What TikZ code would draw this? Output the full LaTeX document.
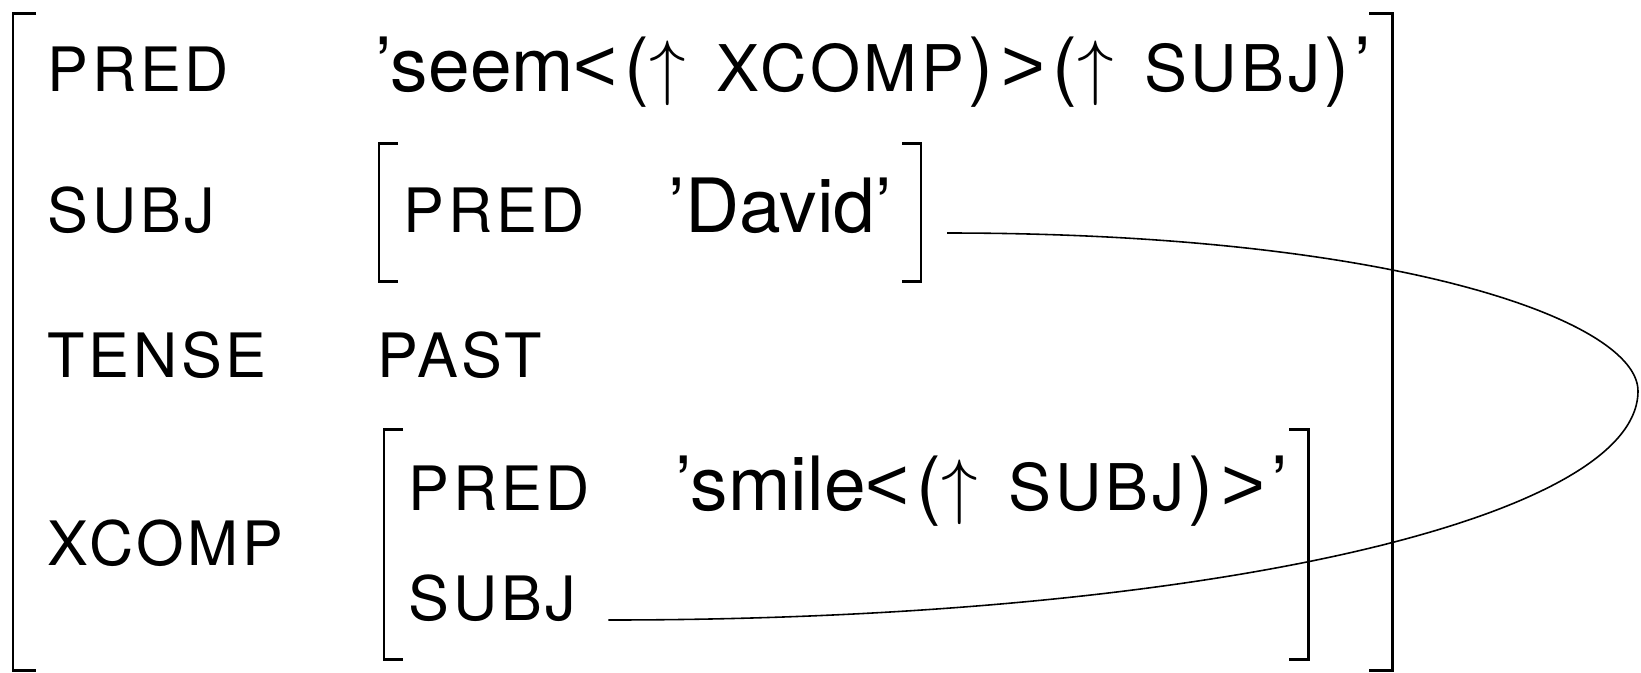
\documentclass[tikz,border=0pt]{standalone}
\usepackage{fontspec}
\setmainfont{TeX Gyre Heros}
\newfontfamily\attrfont[LetterSpace=6]{TeX Gyre Heros}
\newfontfamily\angfont{Liberation Sans}
\usetikzlibrary{calc,positioning}
\newcommand{\fsattr}{\attrfont\fontsize{17.4}{20}\selectfont}
\newcommand{\fsval}{\fontsize{21.3}{25}\selectfont}
% pieces of a PRED value
\newcommand{\at}[1]{{\attrfont\fontsize{18.3}{21}\selectfont #1}}
\newcommand{\up}{\kern2pt($\uparrow$\ \kern2.8pt}
\newcommand{\cl}{\kern1.1pt)}
\newcommand{\lt}{{\angfont<}}
\newcommand{\gt}{\kern2.3pt{\angfont>}}
\newcommand{\qe}{\kern1.7pt’}

\begin{document}
\begin{tikzpicture}[x=0.01cm,y=-0.01cm,
    attr/.style={anchor=base west,inner sep=0pt,font=\fsattr},
    val/.style={anchor=base west,inner sep=0pt,font=\fsval},
    avm/.style={line width=0.85pt},
    link/.style={line width=0.45pt}]
        \useasboundingbox (0,0) rectangle (1641,672);
        % outer f-structure
        \draw[avm] (36,13) -- (13,13) -- (13,670) -- (36,670);
        \draw[avm] (1369,13) -- (1392,13) -- (1392,670) -- (1369,670);
        \node[attr] (pred) at (47,91) {PRED};
        \node[attr] (subj) at (47,232) {SUBJ};
        \node[attr] (tense) at (47,377) {TENSE};
        \node[attr] (xcomp) at (47,565) {XCOMP};
        \node[val] (seem) at (375,91) {’seem\lt\up\at{XCOMP}\cl\gt\up\at{SUBJ}\cl\qe};
        \node[attr] (past) at (377,377) {PAST};
        % subject
        \draw[avm] (398,143) -- (379,143) -- (379,281) -- (398,281);
        \draw[avm] (902,143) -- (921,143) -- (921,281) -- (902,281);
        \node[attr] (dpred) at (403,232) {PRED};
        \node[val] (david) at (668,232) {’David’};
        % xcomp
        \draw[avm] (403,429) -- (384,429) -- (384,659) -- (403,659);
        \draw[avm] (1289,429) -- (1308,429) -- (1308,659) -- (1289,659);
        \node[attr] (xpred) at (408,510) {PRED};
        \node[val] (smile) at (675,510) {’smile\lt\up\at{SUBJ}\cl\gt\qe};
        \node[attr] (xsubj) at (408,620) {SUBJ};
        % structure sharing
        \coordinate (share) at (947,233);
        \coordinate (bend) at (1638,391);
        \draw[link] (share) .. controls (1397,233) and (1638,321) .. (bend)
            .. controls (1638,520) and (1200,620) .. ([xshift=20\pgflinewidth]xsubj.base east);
        % \draw[red] (1391,267) circle (3);
\end{tikzpicture}
\end{document}
